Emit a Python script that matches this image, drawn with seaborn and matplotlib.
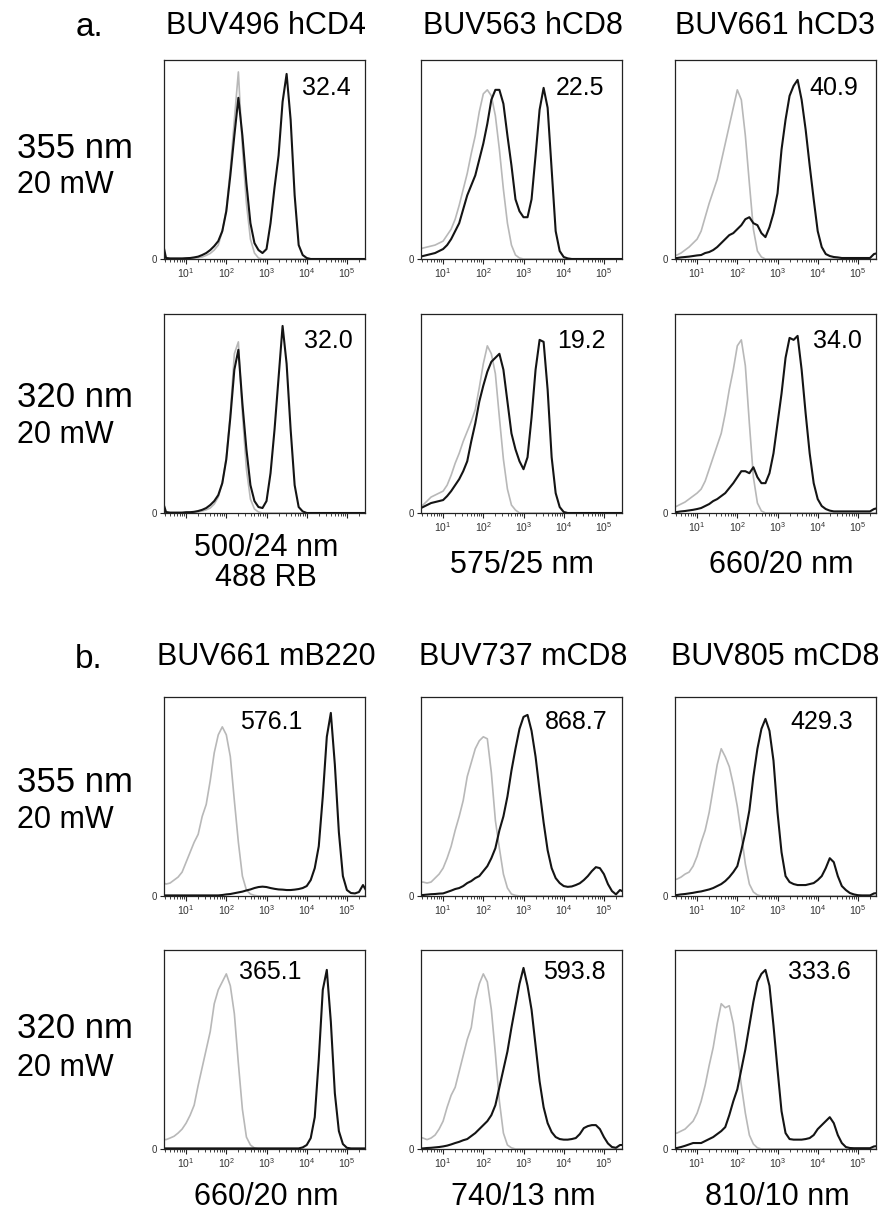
import numpy as np
import pandas as pd
import matplotlib
matplotlib.use("Agg")
import matplotlib.pyplot as plt
import seaborn as sns
from matplotlib.ticker import LogLocator, FixedLocator, FixedFormatter

# ---------------- data (log10 fluorescence bins, % of max events) ----------------
bins_log = [0.4, 0.5, 0.6, 0.7, 0.8, 0.9, 1.0, 1.1, 1.2, 1.3,
            1.4, 1.5, 1.6, 1.7, 1.8, 1.9, 2.0, 2.1, 2.2, 2.3,
            2.4, 2.5, 2.6, 2.7, 2.8, 2.9, 3.0, 3.1, 3.2, 3.3,
            3.4, 3.5, 3.6, 3.7, 3.8, 3.9, 4.0, 4.1, 4.2, 4.3,
            4.4, 4.5, 4.6, 4.7, 4.8, 4.9, 5.0, 5.1, 5.2, 5.3,
            5.4, 5.5]

# panel a, 355 nm
a355_hcd4_ctrl = [0, 0, 0, 0, 0, 0, 0.3, 0.3, 0.5, 0.7,
                  1, 1.8, 2.8, 4.5, 7, 14, 25, 45, 70, 94,
                  56, 28, 10, 3, 0.5, 0, 0, 0, 0, 0,
                  0, 0, 0, 0, 0, 0, 0, 0, 0, 0,
                  0, 0, 0, 0, 0, 0, 0, 0, 0, 0,
                  0, 0]
a355_hcd4_stain = [10, 0.5, 0.3, 0.3, 0.3, 0.3, 0.4, 0.5, 0.8, 1.2,
                   2, 3, 4.5, 6.5, 9, 14, 24, 42, 62, 81,
                   62, 38, 18, 8, 4.5, 3, 5, 18, 36, 52,
                   79, 93, 70, 32, 7, 2, 0.5, 0, 0, 0,
                   0, 0, 0, 0, 0, 0, 0, 0, 0, 0,
                   0, 0]
a355_hcd8_ctrl = [5, 5.5, 6, 6.5, 7, 8, 9, 12, 15, 20,
                  27, 35, 43, 53, 62, 74, 83, 85, 82, 72,
                  55, 35, 18, 7, 2, 0.5, 0, 0, 0, 0,
                  0, 0, 0, 0, 0, 0, 0, 0, 0, 0,
                  0, 0, 0, 0, 0, 0, 0, 0, 0, 0,
                  0, 0]
a355_hcd8_stain = [1, 1.5, 2, 2.5, 3, 4, 5, 7, 10, 14,
                   18, 25, 32, 37, 42, 50, 58, 68, 80, 85,
                   85, 78, 62, 47, 30, 24, 21, 21, 30, 52,
                   75, 86, 76, 45, 14, 4, 1, 0.3, 0, 0,
                   0, 0, 0, 0, 0, 0, 0, 0, 0, 0,
                   0, 0]
a355_hcd3_ctrl = [1.5, 2, 3, 4.5, 6, 8, 10, 14, 21, 28,
                  34, 40, 49, 58, 67, 76, 85, 80, 62, 38,
                  15, 4, 1, 0, 0, 0, 0, 0, 0, 0,
                  0, 0, 0, 0, 0, 0, 0, 0, 0, 0,
                  0, 0, 0, 0, 0, 0, 0, 0, 0, 0,
                  0, 0]
a355_hcd3_stain = [0.5, 0.5, 0.8, 1, 1.2, 1.5, 1.8, 2, 3, 3.5,
                   4.5, 6, 8, 10, 12, 13, 15, 17, 20, 21,
                   18, 17, 13, 11, 16, 23, 33, 55, 70, 82,
                   87, 90, 80, 65, 47, 30, 14, 6, 2.5, 1.5,
                   1, 0.8, 0.5, 0.5, 0.5, 0.5, 0.5, 0.5, 0.5, 0.5,
                   2.5, 3]

# panel a, 320 nm
a320_hcd4_ctrl = [0, 0, 0, 0, 0, 0, 0, 0.4, 0.4, 0.6,
                  1, 1.6, 2.5, 4.5, 8, 15, 28, 50, 80, 86,
                  50, 22, 7, 2, 0.5, 0, 0, 0, 0, 0,
                  0, 0, 0, 0, 0, 0, 0, 0, 0, 0,
                  0, 0, 0, 0, 0, 0, 0, 0, 0, 0,
                  0, 0]
a320_hcd4_stain = [7, 0.5, 0.2, 0.2, 0.2, 0.2, 0.4, 0.4, 0.6, 1,
                   1.6, 2.5, 4, 6, 9, 15, 27, 48, 72, 82,
                   55, 32, 14, 6, 3, 2.5, 6, 20, 42, 68,
                   94, 75, 42, 14, 3, 0.8, 0, 0, 0, 0,
                   0, 0, 0, 0, 0, 0, 0, 0, 0, 0,
                   0, 0]
a320_hcd8_ctrl = [3, 4, 6, 8, 9, 10, 11, 14, 19, 25,
                  30, 36, 41, 46, 52, 63, 75, 84, 80, 70,
                  48, 27, 12, 4, 1.5, 0, 0, 0, 0, 0,
                  0, 0, 0, 0, 0, 0, 0, 0, 0, 0,
                  0, 0, 0, 0, 0, 0, 0, 0, 0, 0,
                  0, 0]
a320_hcd8_stain = [2, 3, 4, 5, 5.5, 6, 6.5, 8.5, 11, 14,
                   17, 21, 26, 36, 45, 56, 64, 71, 76, 78,
                   80, 72, 56, 40, 32, 26, 22, 28, 48, 72,
                   87, 86, 62, 28, 10, 3, 0.5, 0, 0, 0,
                   0, 0, 0, 0, 0, 0, 0, 0, 0, 0,
                   0, 0]
a320_hcd3_ctrl = [2.5, 3.5, 4.5, 5.5, 7, 8.5, 10, 12, 16, 22,
                  28, 34, 40, 50, 62, 72, 84, 87, 74, 45,
                  18, 5, 1, 0, 0, 0, 0, 0, 0, 0,
                  0, 0, 0, 0, 0, 0, 0, 0, 0, 0,
                  0, 0, 0, 0, 0, 0, 0, 0, 0, 0,
                  0, 0]
a320_hcd3_stain = [0.3, 0.5, 0.8, 1, 1.3, 1.6, 2, 2.5, 3.5, 4.5,
                   6, 7, 8.5, 10, 12.5, 15, 18, 21, 21, 20,
                   23, 18, 15, 15, 20, 30, 45, 60, 78, 88,
                   87, 89, 72, 50, 30, 15, 7, 3.5, 2, 1.2,
                   0.8, 0.8, 0.8, 0.8, 0.8, 0.8, 0.8, 0.8, 0.8, 0.8,
                   2, 2.5]

# panel b, 355 nm
b355_mb220_ctrl = [7, 6, 6.5, 8, 9.5, 12, 17, 22, 27, 31,
                   40, 46, 58, 72, 81, 85, 81, 70, 48, 27,
                   10, 3, 1, 0.3, 0, 0, 0, 0, 0, 0,
                   0, 0, 0, 0, 0, 0, 0, 0, 0, 0,
                   0, 0, 0, 0, 0, 0, 0, 0, 0, 0,
                   0, 0]
b355_mb220_stain = [0.3, 0.3, 0.3, 0.3, 0.3, 0.3, 0.3, 0.3, 0.3, 0.3,
                    0.3, 0.3, 0.3, 0.3, 0.3, 0.5, 0.8, 1, 1.4, 1.8,
                    2.2, 2.8, 3.3, 4, 4.5, 4.7, 4.5, 4, 3.6, 3.3,
                    3.2, 3, 3, 3.2, 3.5, 4, 5, 8, 14, 25,
                    50, 80, 92, 66, 32, 10, 3, 1.5, 1.3, 2,
                    5.5, 2]
b355_mcd8a_ctrl = [7, 7, 6.5, 7, 9, 11, 14, 19, 25, 33,
                   40, 48, 60, 67, 74, 78, 80, 79, 62, 38,
                   24, 11, 4, 1, 0.3, 0, 0, 0, 0, 0,
                   0, 0, 0, 0, 0, 0, 0, 0, 0, 0,
                   0, 0, 0, 0, 0, 0, 0, 0, 0, 0,
                   0, 0]
b355_mcd8a_stain = [0.5, 0.5, 0.7, 0.9, 1, 1.2, 1.3, 2, 2.7, 3.5,
                    4, 5, 6.5, 7.5, 9, 10, 12.5, 15, 19, 24,
                    33, 40, 50, 63, 74, 84, 90, 91, 83, 70,
                    53, 37, 23, 14, 9, 6.5, 5, 4.6, 4.8, 5.5,
                    6.4, 8, 10, 12.5, 14.5, 14, 11, 6, 2.5, 0.8,
                    3, 2]
b355_mcd8b_ctrl = [8, 8.5, 9.5, 11, 12, 15, 20, 27, 33, 42,
                   54, 66, 74, 70, 65, 56, 45, 31, 16, 6,
                   2, 0.5, 0, 0, 0, 0, 0, 0, 0, 0,
                   0, 0, 0, 0, 0, 0, 0, 0, 0, 0,
                   0, 0, 0, 0, 0, 0, 0, 0, 0, 0,
                   0, 0]
b355_mcd8b_stain = [0.3, 0.5, 0.8, 1, 1.3, 1.6, 2, 2.3, 2.8, 3.3,
                    4, 5, 6, 7.5, 9.5, 12, 15, 23, 32, 43,
                    60, 74, 84, 89, 83, 68, 42, 22, 10, 7,
                    6, 5.5, 5.5, 5.5, 6, 6.5, 8, 10, 14, 19,
                    17, 10, 5, 3, 1.5, 0.8, 0.4, 0.3, 0.3, 0.3,
                    1.3, 1.5]

# panel b, 320 nm
b320_mb220_ctrl = [5, 4.7, 5.5, 6.4, 8, 10, 13, 17, 22, 32,
                   41, 50, 59, 73, 80, 84, 88, 82, 68, 43,
                   20, 6, 2, 0.5, 0, 0, 0, 0, 0, 0,
                   0, 0, 0, 0, 0, 0, 0, 0, 0, 0,
                   0, 0, 0, 0, 0, 0, 0, 0, 0, 0,
                   0, 0]
b320_mb220_stain = [0.3, 0.3, 0.3, 0.3, 0.3, 0.3, 0.3, 0.3, 0.3, 0.3,
                    0.3, 0.3, 0.3, 0.3, 0.3, 0.3, 0.3, 0.3, 0.3, 0.3,
                    0.3, 0.3, 0.3, 0.3, 0.3, 0.3, 0.3, 0.3, 0.3, 0.3,
                    0.3, 0.3, 0.3, 0.3, 0.3, 0.8, 2, 5.5, 16, 45,
                    80, 90, 64, 28, 9, 2.5, 0.6, 0.3, 0.3, 0.3,
                    0.3, 0.3]
b320_mcd8a_ctrl = [6, 5.5, 4.7, 5.5, 7, 10, 14, 21, 27, 31,
                   39, 47, 55, 61, 75, 83, 88, 84, 70, 48,
                   24, 8, 2, 0.6, 0, 0, 0, 0, 0, 0,
                   0, 0, 0, 0, 0, 0, 0, 0, 0, 0,
                   0, 0, 0, 0, 0, 0, 0, 0, 0, 0,
                   0, 0]
b320_mcd8a_stain = [0.3, 0.3, 0.5, 0.6, 0.8, 1, 1.3, 1.7, 2.3, 3,
                    3.6, 4.4, 5, 6.5, 8, 10, 12, 14, 17, 22,
                    31, 40, 49, 61, 72, 83, 91, 82, 70, 52,
                    34, 21, 13, 8.5, 6, 5, 4.7, 4.7, 5, 5.5,
                    7.5, 10.5, 11.5, 12, 12, 10, 6, 2.8, 1, 0.6,
                    2, 2]
b320_mcd8b_ctrl = [8, 8, 9, 10, 12, 14, 18, 24, 32, 42,
                   51, 63, 73, 71, 72, 63, 48, 32, 18, 7,
                   2.5, 0.6, 0, 0, 0, 0, 0, 0, 0, 0,
                   0, 0, 0, 0, 0, 0, 0, 0, 0, 0,
                   0, 0, 0, 0, 0, 0, 0, 0, 0, 0,
                   0, 0]
b320_mcd8b_stain = [0.5, 0.5, 1, 1.6, 2.3, 3, 3, 3, 4, 5,
                    6, 7.5, 9, 11, 17, 24, 30, 40, 50, 62,
                    74, 84, 88, 90, 82, 62, 40, 19, 8, 5,
                    4.7, 4.7, 4.7, 5, 5.5, 7, 10, 12, 14, 16,
                    13, 7, 3, 1, 0.5, 0.4, 0.4, 0.4, 0.4, 0.4,
                    1.3, 1.5]

panel_values = [["32.4", "22.5", "40.9"],
                ["32.0", "19.2", "34.0"],
                ["576.1", "868.7", "429.3"],
                ["365.1", "593.8", "333.6"]]
col_titles_a = ["BUV496 hCD4", "BUV563 hCD8", "BUV661 hCD3"]
col_titles_b = ["BUV661 mB220", "BUV737 mCD8", "BUV805 mCD8"]
filters_a = ["500/24 nm\n488 RB", "575/25 nm", "660/20 nm"]
filters_b = ["660/20 nm", "740/13 nm", "810/10 nm"]
row_lasers = ["355 nm", "320 nm", "355 nm", "320 nm"]
row_power = ["20 mW", "20 mW", "20 mW", "20 mW"]

curves = [
    [(a355_hcd4_ctrl, a355_hcd4_stain), (a355_hcd8_ctrl, a355_hcd8_stain), (a355_hcd3_ctrl, a355_hcd3_stain)],
    [(a320_hcd4_ctrl, a320_hcd4_stain), (a320_hcd8_ctrl, a320_hcd8_stain), (a320_hcd3_ctrl, a320_hcd3_stain)],
    [(b355_mb220_ctrl, b355_mb220_stain), (b355_mcd8a_ctrl, b355_mcd8a_stain), (b355_mcd8b_ctrl, b355_mcd8b_stain)],
    [(b320_mb220_ctrl, b320_mb220_stain), (b320_mcd8a_ctrl, b320_mcd8a_stain), (b320_mcd8b_ctrl, b320_mcd8b_stain)],
]

# ---------------- build long table ----------------
rows = []
for r in range(4):
    for c in range(3):
        ctrl, stain = curves[r][c]
        for lg, v in zip(bins_log, ctrl):
            rows.append((r, c, "control", 10 ** lg, v))
        for lg, v in zip(bins_log, stain):
            rows.append((r, c, "stained", 10 ** lg, v))
df = pd.DataFrame(rows, columns=["row", "col", "sample", "fluor", "count"])

# ---------------- figure ----------------
sns.set_theme(style="white")
plt.rcParams["font.family"] = ["Liberation Sans", "DejaVu Sans"]
plt.rcParams["mathtext.fontset"] = "custom"
plt.rcParams["mathtext.rm"] = "Liberation Sans"
plt.rcParams["mathtext.it"] = "Liberation Sans"
plt.rcParams["mathtext.bf"] = "Liberation Sans"
plt.rcParams["text.color"] = "black"

W, H = 884, 1211
fig = plt.figure(figsize=(W / 100, H / 100), dpi=100)

col_left_px = [164, 421, 675]
row_bottom_px = [259, 513, 896, 1149]
pw, ph = 201, 199

def fx(px):
    return px / W

def fy(py):
    return 1 - py / H

val_pos = [[(0.81, 0.86), (0.79, 0.86), (0.79, 0.86)],
           [(0.82, 0.865), (0.80, 0.865), (0.81, 0.865)],
           [(0.535, 0.874), (0.774, 0.874), (0.73, 0.874)],
           [(0.527, 0.889), (0.764, 0.889), (0.72, 0.889)]]

for r in range(4):
    for c in range(3):
        ax = fig.add_axes([fx(col_left_px[c]), fy(row_bottom_px[r]), pw / W, ph / H])
        sub = df[(df["row"] == r) & (df["col"] == c)]
        sns.lineplot(data=sub[sub["sample"] == "control"], x="fluor", y="count",
                     color="#b8b8b8", linewidth=1.2, ax=ax, legend=False)
        sns.lineplot(data=sub[sub["sample"] == "stained"], x="fluor", y="count",
                     color="#141414", linewidth=1.5, ax=ax, legend=False)
        ax.set_xscale("log")
        ax.set_xlim(10 ** 0.45, 10 ** 5.45)
        ax.set_ylim(0, 100)
        ax.set_xlabel("")
        ax.set_ylabel("")
        ax.xaxis.set_major_locator(FixedLocator([1e1, 1e2, 1e3, 1e4, 1e5]))
        ax.xaxis.set_minor_locator(LogLocator(base=10, subs=np.arange(2, 10), numticks=20))
        ax.yaxis.set_major_locator(FixedLocator([0]))
        ax.yaxis.set_major_formatter(FixedFormatter(["0"]))
        ax.tick_params(axis="x", which="major", direction="out", length=3.5, width=0.8,
                       labelsize=7.5, labelcolor="#333333", color="#222222", pad=2, bottom=True)
        ax.tick_params(axis="x", which="minor", direction="out", length=2, width=0.6,
                       color="#222222", bottom=True)
        ax.tick_params(axis="y", which="major", direction="out", length=3, width=0.8,
                       labelsize=7, labelcolor="#333333", color="#222222", pad=2, left=True)
        for sp in ax.spines.values():
            sp.set_visible(True)
            sp.set_linewidth(0.9)
            sp.set_color("#222222")
        if r == 1 and c == 0:
            ax.tick_params(axis="x", labelbottom=False)
        vx, vy = val_pos[r][c]
        ax.text(vx, vy, panel_values[r][c], transform=ax.transAxes,
                ha="center", va="center", fontsize=18, color="black")

# column titles
title_x = [266, 523, 775]
for c in range(3):
    fig.text(fx(title_x[c]), fy(26), col_titles_a[c], ha="center", va="center", fontsize=22)
    fig.text(fx(title_x[c]), fy(657), col_titles_b[c], ha="center", va="center", fontsize=22)

# section letters
fig.text(fx(89), fy(27), "a.", ha="center", va="center", fontsize=24)
fig.text(fx(89), fy(660), "b.", ha="center", va="center", fontsize=24)

# row labels
laser_y = [148, 397, 782, 1028]
power_y = [185, 435, 820, 1068]
for r in range(4):
    fig.text(fx(17), fy(laser_y[r]), row_lasers[r], ha="left", va="center", fontsize=25)
    fig.text(fx(17), fy(power_y[r]), row_power[r], ha="left", va="center", fontsize=22)

# filter labels
filt_x = [266, 522, 781]
fig.text(fx(filt_x[0]), fy(563), filters_a[0], ha="center", va="center", fontsize=22,
         linespacing=1.0)
fig.text(fx(filt_x[1]), fy(565), filters_a[1], ha="center", va="center", fontsize=22)
fig.text(fx(filt_x[2]), fy(565), filters_a[2], ha="center", va="center", fontsize=22)
filt_xb = [266, 523, 777]
for c in range(3):
    fig.text(fx(filt_xb[c]), fy(1197), filters_b[c], ha="center", va="center", fontsize=22)

fig.savefig("out.png", dpi=100)
